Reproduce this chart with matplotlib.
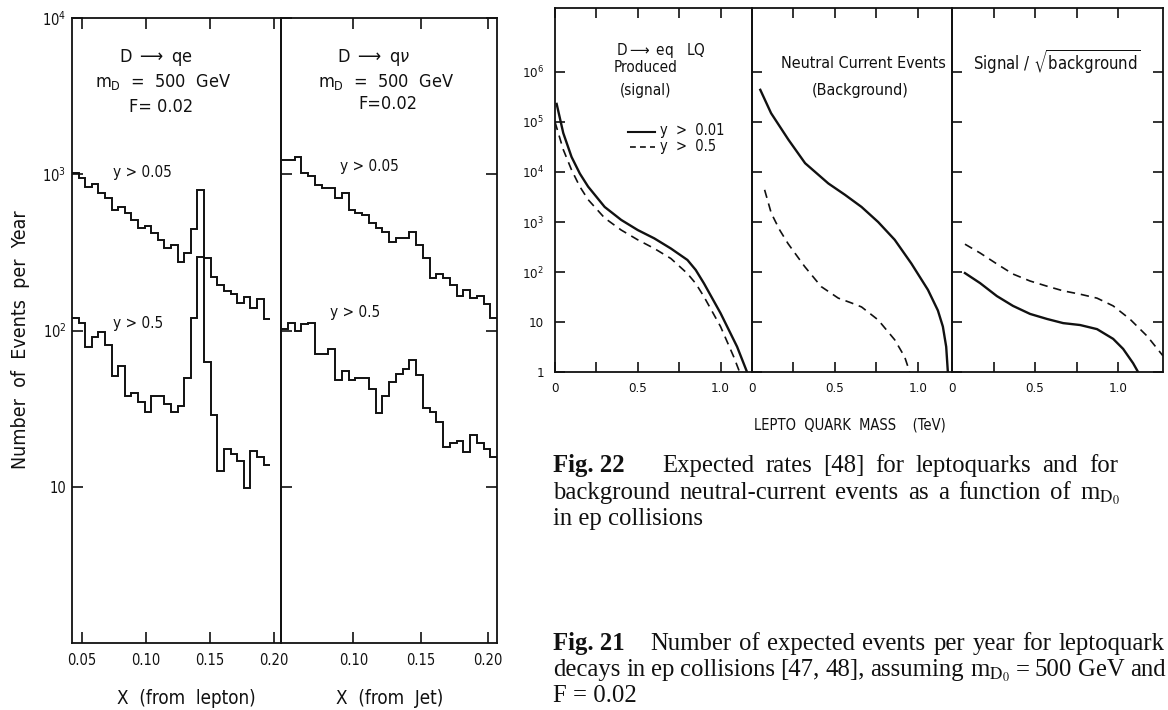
import numpy as np
import matplotlib
matplotlib.use("Agg")
import matplotlib.pyplot as plt
from matplotlib.lines import Line2D
from matplotlib.ticker import FixedLocator, FixedFormatter, NullLocator

plt.rcParams["font.family"] = ["DejaVu Sans"]
plt.rcParams["font.stretch"] = "condensed"

# ---------------- Fig. 21 : events per year versus x ----------------
lepton_x_lo, lepton_x_hi = 0.042, 0.197      # histogram span, lepton panel
jet_x_lo, jet_x_hi = 0.046, 0.207            # histogram span, jet panel

lepton_y005 = [1020, 950, 830, 870, 760, 705, 590, 615, 565, 510,
               455, 465, 420, 380, 335, 355, 275, 315, 445, 790,
               290, 220, 195, 178, 170, 150, 165, 140, 160, 118]
lepton_y05 = [120, 112, 78, 91, 98, 81, 51, 59, 38, 40,
              35, 30, 38, 38, 34, 30, 33, 50, 120, 295,
              63, 29, 12.6, 17.4, 16.3, 14.7, 9.8, 17, 15.5, 13.8]
jet_y005 = [1225, 1225, 1290, 1020, 975, 855, 815, 815, 705, 755,
            590, 565, 550, 490, 455, 430, 370, 390, 390, 430,
            355, 290, 218, 230, 218, 195, 167, 182, 162, 167, 148, 120]
jet_y05 = [102, 112, 100, 110, 112, 71, 71, 76, 48, 55,
           48, 50, 50, 42, 29.5, 38, 47, 53, 57, 65,
           52, 32, 30, 26, 18, 19, 19.5, 16.6, 21.5, 19, 17.4, 15.5]

# ---------------- Fig. 22 : rates versus leptoquark mass ----------------
sig_m_solid = [0.01, 0.05, 0.10, 0.15, 0.20, 0.30, 0.40, 0.50, 0.60, 0.70,
               0.80, 0.85, 0.90, 1.00, 1.10, 1.16]
sig_solid = [2.3e5, 6.0e4, 2.0e4, 9.3e3, 5.1e3, 2.0e3, 1.1e3, 690, 470, 295,
             174, 110, 59, 15, 3.2, 1.0]
sig_m_dash = [0.0, 0.05, 0.10, 0.15, 0.20, 0.30, 0.40, 0.50, 0.60, 0.70,
              0.80, 0.85, 0.90, 1.00, 1.08, 1.115]
sig_dash = [1.0e5, 2.8e4, 1.1e4, 5.1e3, 2.8e3, 1.2e3, 690, 440, 295, 186,
            93, 59, 32, 8.1, 2.0, 1.0]

bg_m_solid = [0.05, 0.115, 0.22, 0.32, 0.46, 0.56, 0.66, 0.76, 0.86, 0.96,
              1.06, 1.12, 1.15, 1.17, 1.18]
bg_solid = [4.4e5, 1.5e5, 4.4e4, 1.5e4, 5.9e3, 3.5e3, 2.0e3, 1.0e3, 440, 148,
            44, 17, 8.1, 3.2, 1.0]
bg_m_dash = [0.076, 0.116, 0.167, 0.217, 0.317, 0.417, 0.52, 0.60, 0.66, 0.76,
             0.86, 0.92, 0.95]
bg_dash = [4.4e3, 1.5e3, 690, 370, 129, 51, 30, 24, 20, 11, 4.4, 2.0, 1.0]

sb_m_solid = [0.078, 0.169, 0.27, 0.367, 0.47, 0.572, 0.669, 0.771, 0.873,
              0.97, 1.03, 1.09, 1.12]
sb_solid = [95, 60, 33, 21, 14.5, 11.5, 9.5, 8.7, 7.2, 4.6, 2.9, 1.5, 1.0]
sb_m_dash = [0.078, 0.169, 0.27, 0.367, 0.47, 0.572, 0.669, 0.771, 0.873,
             0.97, 1.07, 1.175, 1.27]
sb_dash = [360, 240, 145, 91, 66, 52, 42, 36, 30, 21, 11.5, 5.2, 2.1]

fig21_xticks_lep = [0.05, 0.10, 0.15, 0.20]
fig21_xticks_jet = [0.10, 0.15, 0.20]
fig21_yticks = [10, 100, 1000, 10000]
fig21_ylabels = ["10", "$10^2$", "$10^3$", "$10^4$"]
fig22_yticks = [1, 10, 100, 1e3, 1e4, 1e5, 1e6]
fig22_ylabels = ["1", "10", "$10^2$", "$10^3$", "$10^4$", "$10^5$", "$10^6$"]
fig22_xticks = [0, 0.25, 0.5, 0.75, 1.0]
fig22_xlabels = ["0", "", "0.5", "", "1.0"]

W, H = 1168, 710
fig = plt.figure(figsize=(W / 100, H / 100), dpi=100)
fig.patch.set_facecolor("white")
INK = "#111111"


def box(x0, y0, x1, y1):
    return fig.add_axes([x0 / W, 1 - y1 / H, (x1 - x0) / W, (y1 - y0) / H])


def ftext(x, y, s, **kw):
    kw.setdefault("color", INK)
    return fig.text(x / W, 1 - y / H, s, **kw)


def justify(line, y, x_start, x_end, **kw):
    """Set a caption line word by word, spread to fill [x_start, x_end]."""
    words = line.split(" ")
    texts = [ftext(0, y, w, **kw) for w in words]
    rend = fig.canvas.get_renderer()
    widths = [t.get_window_extent(rend).width for t in texts]
    gap = (x_end - x_start - sum(widths)) / max(len(words) - 1, 1)
    x = x_start
    for t, w in zip(texts, widths):
        t.set_x(x / W)
        x += w + gap


def frame(ax, lw=1.3):
    for sp in ax.spines.values():
        sp.set_linewidth(lw)
        sp.set_color(INK)
    ax.set_facecolor("none")


# ---- Fig. 21 panels ----
axL = box(72, 18, 281, 643)
axJ = box(281, 18, 497, 643)
panels21 = [
    (axL, lepton_x_lo, lepton_x_hi, lepton_y005, lepton_y05, (0.042, 0.2055), fig21_xticks_lep),
    (axJ, jet_x_lo, jet_x_hi, jet_y005, jet_y05, (0.046, 0.2070), fig21_xticks_jet),
]
for ax, lo, hi, up, low, xl, xt in panels21:
    frame(ax)
    ax.set_yscale("log")
    ax.set_ylim(1, 1e4)
    ax.set_xlim(*xl)
    edges = np.linspace(lo, hi, len(up) + 1)
    ax.stairs(up, edges, baseline=None, color=INK, lw=1.4)
    ax.stairs(low, edges, baseline=None, color=INK, lw=1.4)
    ax.yaxis.set_major_locator(FixedLocator(fig21_yticks))
    ax.yaxis.set_major_formatter(FixedFormatter(fig21_ylabels))
    ax.yaxis.set_minor_locator(NullLocator())
    ax.xaxis.set_major_locator(FixedLocator(xt))
    ax.xaxis.set_major_formatter(FixedFormatter([f"{v:.2f}" for v in xt]))
    ax.tick_params(axis="both", which="major", direction="in", length=8,
                   width=1.2, color=INK, labelcolor=INK, labelsize=10.5, top=True)
    ax.tick_params(axis="x", pad=7)
    ax.tick_params(axis="y", pad=4)

axL.tick_params(axis="y", left=True, right=False)
axJ.tick_params(axis="y", left=True, right=True, labelleft=False)

ftext(156, 57, r"D $\longrightarrow$ qe", ha="center", va="center", fontsize=13)
ftext(163, 82, r"m$_\mathrm{D}$  =  500  GeV", ha="center", va="center", fontsize=13)
ftext(161, 107, "F= 0.02", ha="center", va="center", fontsize=13)
ftext(113, 173, "y > 0.05", ha="left", va="center", fontsize=11)
ftext(113, 323, "y > 0.5", ha="left", va="center", fontsize=11)

ftext(374, 57, r"D $\longrightarrow$ q$\nu$", ha="center", va="center", fontsize=13)
ftext(386, 82, r"m$_\mathrm{D}$  =  500  GeV", ha="center", va="center", fontsize=13)
ftext(388, 104, "F=0.02", ha="center", va="center", fontsize=13)
ftext(340, 167, "y > 0.05", ha="left", va="center", fontsize=11)
ftext(330, 312, "y > 0.5", ha="left", va="center", fontsize=11)

ftext(21, 340, "Number  of  Events  per  Year", rotation=90, ha="center",
      va="center", fontsize=14)
ftext(186, 698, "X  (from  lepton)", ha="center", va="center", fontsize=13.5)
ftext(390, 698, "X  (from  Jet)", ha="center", va="center", fontsize=13.5)

# ---- Fig. 22 panels ----
p1 = box(555, 8, 752, 372)
p2 = box(752, 8, 952, 372)
p3 = box(952, 8, 1163, 372)
spans22 = [(p1, 1.19), (p2, 1.205), (p3, 1.27)]
for ax, xmax in spans22:
    frame(ax)
    ax.set_yscale("log")
    ax.set_ylim(1, 10 ** 7.28)
    ax.set_xlim(0, xmax)
    ax.yaxis.set_major_locator(FixedLocator(fig22_yticks))
    ax.yaxis.set_major_formatter(FixedFormatter(fig22_ylabels))
    ax.yaxis.set_minor_locator(NullLocator())
    ax.xaxis.set_major_locator(FixedLocator(fig22_xticks))
    ax.xaxis.set_major_formatter(FixedFormatter(fig22_xlabels))
    ax.tick_params(axis="both", which="major", direction="in", length=7,
                   width=1.2, color=INK, labelcolor=INK, labelsize=9.5, top=True)
    ax.tick_params(axis="x", pad=7)
    ax.tick_params(axis="y", pad=8)
p2.tick_params(axis="y", labelleft=False)
p3.tick_params(axis="y", labelleft=False, right=True)

dash = (0, (5, 3.5))
p1.plot(sig_m_solid, sig_solid, color=INK, lw=1.7)
p1.plot(sig_m_dash, sig_dash, color=INK, lw=1.2, linestyle=dash)
p2.plot(bg_m_solid, bg_solid, color=INK, lw=1.7)
p2.plot(bg_m_dash, bg_dash, color=INK, lw=1.2, linestyle=dash)
p3.plot(sb_m_solid, sb_solid, color=INK, lw=1.7)
p3.plot(sb_m_dash, sb_dash, color=INK, lw=1.2, linestyle=dash)

ftext(661, 50, r"D$\longrightarrow$ eq   LQ", ha="center", va="center", fontsize=11)
ftext(646, 68, "Produced", ha="center", va="center", fontsize=11)
ftext(646, 90, "(signal)", ha="center", va="center", fontsize=11)
fig.add_artist(Line2D([628 / W, 655 / W], [1 - 132 / H] * 2, color=INK, lw=1.5))
fig.add_artist(Line2D([630 / W, 655 / W], [1 - 147 / H] * 2, color=INK, lw=1.2,
                      linestyle=(0, (3.5, 2.5))))
ftext(660, 130, "y  >  0.01", ha="left", va="center", fontsize=10.5)
ftext(660, 146, "y  >  0.5", ha="left", va="center", fontsize=10.5)

ftext(863, 64, "Neutral Current Events", ha="center", va="center", fontsize=11.5)
ftext(860, 91, "(Background)", ha="center", va="center", fontsize=11.5)
ftext(1057, 62, r"Signal / $\sqrt{\mathrm{background}}$", ha="center",
      va="center", fontsize=12)
ftext(850, 425, "LEPTO  QUARK  MASS    (TeV)", ha="center", va="center", fontsize=10.5)

# ---- captions (justified like the printed page) ----
serif = ["Liberation Serif", "DejaVu Serif"]
cap = dict(family=serif, fontsize=17.8, va="baseline", ha="left", math_fontfamily="stix")
x0 = 553
ftext(x0, 472, "Fig. 22", fontweight="bold", **cap)
justify("Expected rates [48] for leptoquarks and for", 472, 662, 1118, **cap)
justify(r"background neutral-current events as a function of m$_{\mathrm{D}_0}$",
        499, x0, 1120, **cap)
ftext(x0, 525, "in ep collisions", **cap)

ftext(x0, 650, "Fig. 21", fontweight="bold", **cap)
justify("Number of expected events per year for leptoquark", 650, 650, 1165, **cap)
justify(r"decays in ep collisions [47, 48], assuming m$_{\mathrm{D}_0}$ = 500 GeV and",
        676, x0, 1166, **cap)
ftext(x0, 702, "F = 0.02", **cap)

fig.savefig("out.png", dpi=100, facecolor="white")
